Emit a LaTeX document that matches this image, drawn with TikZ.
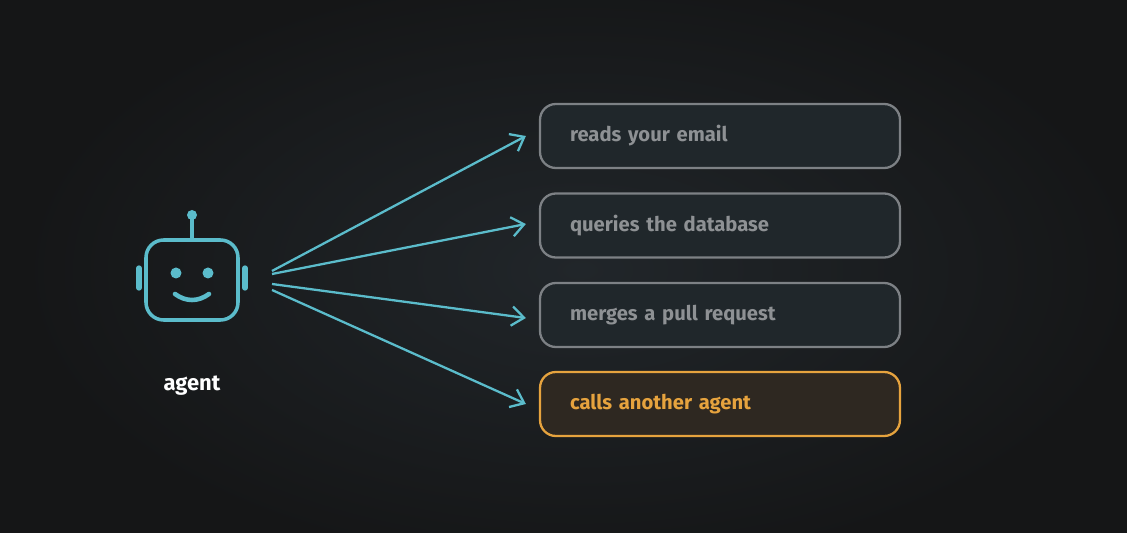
\documentclass[tikz,border=0pt]{standalone}
\usepackage{fontspec}
\setmainfont{Fira Sans}
\usepackage{xcolor}
\usetikzlibrary{arrows.meta,positioning}

\definecolor{bgdark}{HTML}{151617}
\definecolor{bgglow}{HTML}{21262A}
\definecolor{teal}{HTML}{5BBCCB}
\definecolor{boxfill}{HTML}{20272B}
\definecolor{boxline}{HTML}{7D8185}
\definecolor{boxtext}{HTML}{8E9194}
\definecolor{amber}{HTML}{E6A33E}
\definecolor{amberfill}{HTML}{2E2821}

\begin{document}
\begin{tikzpicture}[x=0.02cm,y=-0.02cm,
  task/.style={draw=boxline, line width=1.3pt, fill=boxfill, rounded corners=9pt,
    minimum width=7.2cm, minimum height=1.28cm, text width=6.0cm, align=left,
    text=boxtext, font=\fontsize{11.5}{13}\selectfont\bfseries},
  hot/.style={task, draw=amber, fill=amberfill, text=amber},
  link/.style={draw=teal, line width=1.3pt, -{Straight Barb[length=7pt,width=11pt]}}]

% background
\useasboundingbox (0,0) rectangle (1127,533);
\fill[bgdark] (0,0) rectangle (1127,533);
\begin{scope}
  \clip (0,0) rectangle (1127,533);
  \shade[inner color=bgglow, outer color=bgdark] (580,270) ellipse (560 and 300);
\end{scope}

% robot
\begin{scope}[teal, line width=2pt]
  \draw[rounded corners=10pt] (146,240) rectangle (238,320);
  \draw (192,240) -- (192,218);
  \fill (192,215) circle (5);
  \draw[line width=3pt, line cap=round] (139,268) -- (139,288);
  \draw[line width=3pt, line cap=round] (245,268) -- (245,288);
  \fill (176,273) circle (5.5);
  \fill (208,273) circle (5.5);
  \draw[line width=2.6pt, line cap=round] (175,294) .. controls (186,302) and (198,302) .. (209,294);
\end{scope}
\node[text=white, font=\fontsize{12.5}{14}\selectfont\bfseries] (agent) at (192,386) {agent};

% tasks
\node[task] (email) at (720,136) {reads your email};
\node[task] (db) at (720,225.5) {queries the database};
\node[task] (pr) at (720,315) {merges a pull request};
\node[hot] (other) at (720,404) {calls another agent};

% arrows
\coordinate (s1) at (272,271);
\coordinate (s2) at (272,274);
\coordinate (s3) at (272,284);
\coordinate (s4) at (272,290);
\draw[link] (s1) -- ([xshift=-0.26cm]email.west);
\draw[link] (s2) -- ([xshift=-0.26cm,yshift=0.03cm]db.west);
\draw[link] (s3) -- ([xshift=-0.26cm,yshift=-0.06cm]pr.west);
\draw[link] (s4) -- ([xshift=-0.26cm]other.west);
\end{tikzpicture}
\end{document}
